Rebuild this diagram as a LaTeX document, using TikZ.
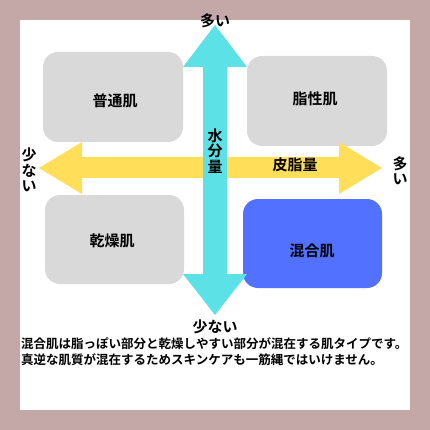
\documentclass[tikz,border=0pt]{standalone}
\usepackage{fontspec}
\setmainfont{Noto Sans CJK JP}[BoldFont={* Bold}]
\definecolor{frame}{HTML}{C4A7A7}
\definecolor{boxgray}{HTML}{D9D9D9}
\definecolor{mixblue}{HTML}{5271FF}
\definecolor{aqua}{HTML}{5CE1E6}
\definecolor{sun}{HTML}{FFDE59}
\tikzset{
  skinbox/.style={fill=boxgray, rounded corners=15pt},
  lbl/.style={font=\fontsize{15}{15.5}\selectfont\bfseries, inner sep=0pt},
  vlbl/.style={lbl, align=center},
  captext/.style={font=\fontsize{12.5}{14}\selectfont\bfseries, inner sep=0pt, anchor=west}
}
\begin{document}
\begin{tikzpicture}[x=1pt,y=-1pt]
\useasboundingbox (0,0) rectangle (430,430);
\fill[frame] (0,0) rectangle (430,430);
\fill[white] (20,20) rectangle (410,410);
% boxes
\fill[skinbox] (43,52) rectangle (183,142);
\fill[skinbox] (247,56) rectangle (387,146);
\fill[skinbox] (45,195) rectangle (184,284);
\fill[skinbox, fill=mixblue] (243,199) rectangle (382,288);
% horizontal arrow
\fill[sun] (39,168) -- (82,142) -- (82,157) -- (339,157) -- (339,142) -- (382,168)
  -- (339,194) -- (339,178) -- (82,178) -- (82,194) -- cycle;
% vertical arrow
\fill[aqua] (215,25) -- (247,67) -- (227,67) -- (227,274) -- (247,274) -- (215,315)
  -- (183,274) -- (203,274) -- (203,67) -- (183,67) -- cycle;
% labels
\node[lbl] (n1) at (115,101) {普通肌};
\node[lbl] (n2) at (315,99) {脂性肌};
\node[lbl] (n3) at (112,241) {乾燥肌};
\node[lbl] (n4) at (312,251) {混合肌};
\node[lbl] (top) at (215,21) {多い};
\node[lbl] (bot) at (215,327) {少ない};
\node[vlbl] (left) at (29,170) {少\\な\\い};
\node[vlbl] (right) at (400,171) {多\\い};
\node[vlbl] (water) at (215,151) {水\\分\\量};
\node[lbl] (oil) at (295,165) {皮脂量};
\node[captext] (c1) at (21,344) {混合肌は脂っぽい部分と乾燥しやすい部分が混在する肌タイプです。};
\node[captext] (c2) at (21,360) {真逆な肌質が混在するためスキンケアも一筋縄ではいけません。};
\end{tikzpicture}
\end{document}
